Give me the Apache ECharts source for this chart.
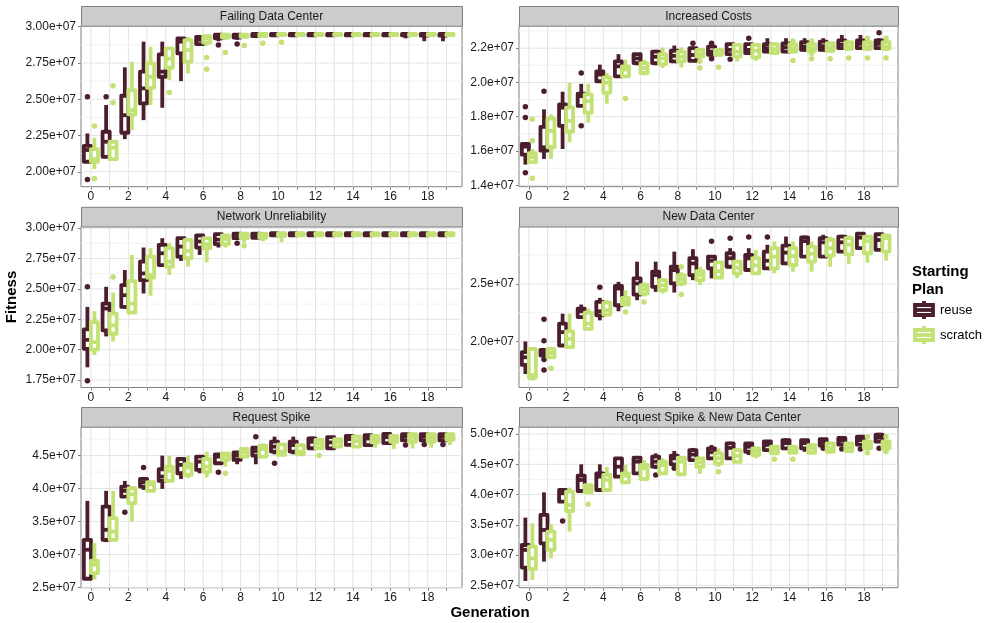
<!DOCTYPE html>
<html><head><meta charset="utf-8">
<script src="https://cdn.jsdelivr.net/npm/echarts@6/dist/echarts.min.js"></script>
<style>html,body{margin:0;padding:0;background:#fff}#c{width:988px;height:623px}</style>
</head><body><div id="c"></div>
<script>
// ---------- DATA (values in units of 1e7; each box = [lowerWhisker, Q1, median, Q3, upperWhisker]) ----------
const generations = [0,1,2,3,4,5,6,7,8,9,10,11,12,13,14,15,16,17,18,19];
const xTickLabels = [0,2,4,6,8,10,12,14,16,18];
const seriesNames = ['reuse','scratch'];
const panelTitles = ['Failing Data Center','Increased Costs','Network Unreliability','New Data Center','Request Spike','Request Spike & New Data Center'];

const failingReuse = [
 [2.065,2.069,2.15,2.179,2.264],[2.10,2.103,2.207,2.276,2.46],[2.225,2.269,2.39,2.524,2.72],[2.356,2.471,2.575,2.69,2.897],
 [2.441,2.655,2.69,2.809,2.897],[2.625,2.816,2.897,2.92,2.926],[2.875,2.88,2.91,2.93,2.935],[2.90,2.92,2.935,2.945,2.95],
 [2.91,2.925,2.94,2.945,2.95],[2.925,2.935,2.945,2.95,2.952],[2.935,2.94,2.946,2.95,2.953],[2.935,2.94,2.946,2.95,2.953],
 [2.935,2.94,2.946,2.95,2.953],[2.935,2.94,2.946,2.95,2.953],[2.935,2.94,2.946,2.95,2.953],[2.935,2.94,2.946,2.95,2.953],
 [2.935,2.94,2.946,2.95,2.953],[2.92,2.94,2.946,2.95,2.953],[2.90,2.938,2.946,2.95,2.953],[2.90,2.938,2.946,2.95,2.953]];
const failingScratch = [
 [2.018,2.069,2.087,2.156,2.234],[2.08,2.087,2.166,2.207,2.21],[2.287,2.395,2.425,2.563,2.759],[2.46,2.579,2.655,2.747,2.862],
 [2.632,2.717,2.78,2.85,2.857],[2.678,2.759,2.839,2.908,2.93],[2.87,2.89,2.92,2.935,2.94],[2.91,2.925,2.94,2.945,2.95],
 [2.92,2.93,2.94,2.945,2.95],[2.925,2.935,2.945,2.95,2.952],[2.935,2.942,2.947,2.95,2.953],[2.935,2.942,2.947,2.95,2.953],
 [2.935,2.942,2.947,2.95,2.953],[2.935,2.942,2.947,2.95,2.953],[2.935,2.942,2.947,2.95,2.953],[2.935,2.942,2.947,2.95,2.953],
 [2.935,2.942,2.947,2.95,2.953],[2.935,2.942,2.947,2.95,2.953],[2.935,2.942,2.947,2.95,2.953],[2.935,2.942,2.947,2.95,2.953]];
const failingReuseOut = [[0,2.517],[0,1.947],[1,2.517],[7,2.874],[8,2.88]];
const failingScratchOut = [[0,2.315],[0,1.954],[1,2.593],[1,2.476],[4,2.547],[6,2.788],[6,2.706],[7,2.823],[8,2.87],[9,2.886],[10,2.893]];

const costsReuse = [
 [1.521,1.579,1.626,1.641,1.645],[1.554,1.602,1.622,1.741,1.843],[1.612,1.747,1.853,1.872,1.946],[1.863,1.863,1.92,1.934,1.992],
 [1.998,2.007,2.046,2.065,2.104],[2.036,2.036,2.094,2.123,2.165],[2.10,2.113,2.14,2.165,2.17],[2.10,2.113,2.15,2.18,2.19],
 [2.113,2.123,2.155,2.185,2.215],[2.12,2.126,2.16,2.20,2.21],[2.15,2.161,2.18,2.209,2.215],[2.155,2.165,2.19,2.223,2.23],
 [2.165,2.171,2.19,2.223,2.23],[2.171,2.18,2.20,2.223,2.258],[2.171,2.18,2.205,2.228,2.258],[2.18,2.19,2.21,2.235,2.258],
 [2.18,2.19,2.212,2.238,2.258],[2.20,2.20,2.22,2.245,2.277],[2.20,2.20,2.225,2.245,2.277],[2.20,2.20,2.225,2.245,2.258]];
const costsScratch = [
 [1.535,1.535,1.564,1.587,1.612],[1.554,1.622,1.718,1.789,1.814],[1.651,1.714,1.776,1.853,1.998],[1.766,1.824,1.891,1.93,1.992],
 [1.876,1.94,1.998,2.03,2.055],[2.036,2.036,2.075,2.094,2.133],[2.042,2.055,2.084,2.113,2.133],[2.084,2.107,2.14,2.165,2.204],
 [2.088,2.123,2.15,2.18,2.204],[2.142,2.151,2.165,2.19,2.20],[2.151,2.161,2.175,2.19,2.20],[2.123,2.151,2.18,2.219,2.223],
 [2.126,2.146,2.185,2.219,2.223],[2.16,2.171,2.195,2.223,2.225],[2.17,2.18,2.20,2.223,2.23],[2.175,2.184,2.20,2.223,2.23],
 [2.175,2.184,2.205,2.229,2.235],[2.184,2.196,2.21,2.235,2.24],[2.184,2.196,2.21,2.235,2.24],[2.184,2.196,2.21,2.235,2.24]];
const costsReuseOut = [[0,1.859],[0,1.795],[0,1.473],[1,1.949],[3,2.055],[3,1.747],[9,2.229],[10,2.229],[10,2.138],[11,2.136],[12,2.258],[19,2.29]];
const costsScratchOut = [[0,1.786],[0,1.66],[0,1.442],[5,1.907],[9,2.123],[9,2.084],[10,2.088],[14,2.242],[14,2.128],[15,2.242],[15,2.171],[15,2.138],[16,2.138],[17,2.142],[18,2.258],[18,2.142],[19,2.258],[19,2.142]];

const networkReuse = [
 [1.855,2.007,2.081,2.167,2.352],[2.109,2.158,2.338,2.379,2.517],[2.338,2.352,2.448,2.531,2.655],[2.462,2.572,2.627,2.724,2.84],
 [2.696,2.696,2.793,2.862,2.917],[2.73,2.765,2.848,2.917,2.926],[2.779,2.84,2.89,2.939,2.95],[2.84,2.868,2.905,2.95,2.959],
 [2.905,2.917,2.945,2.955,2.96],[2.91,2.92,2.945,2.955,2.96],[2.935,2.94,2.952,2.958,2.962],[2.935,2.94,2.952,2.958,2.962],
 [2.935,2.94,2.952,2.958,2.962],[2.935,2.94,2.952,2.958,2.962],[2.935,2.94,2.952,2.958,2.962],[2.935,2.94,2.952,2.958,2.962],
 [2.935,2.94,2.952,2.958,2.962],[2.935,2.94,2.952,2.958,2.962],[2.935,2.94,2.952,2.958,2.962],[2.935,2.94,2.952,2.958,2.962]];
const networkScratch = [
 [1.957,2.001,2.062,2.227,2.316],[2.067,2.131,2.20,2.296,2.47],[2.305,2.305,2.379,2.564,2.779],[2.443,2.592,2.614,2.765,2.834],
 [2.614,2.683,2.724,2.834,2.876],[2.683,2.752,2.812,2.903,2.917],[2.719,2.834,2.868,2.917,2.926],[2.84,2.868,2.91,2.939,2.95],
 [2.88,2.917,2.94,2.955,2.96],[2.89,2.92,2.945,2.955,2.96],[2.884,2.935,2.95,2.958,2.962],[2.935,2.94,2.952,2.958,2.962],
 [2.935,2.94,2.952,2.958,2.962],[2.935,2.94,2.952,2.958,2.962],[2.935,2.94,2.952,2.958,2.962],[2.935,2.94,2.952,2.958,2.962],
 [2.935,2.94,2.952,2.958,2.962],[2.935,2.94,2.952,2.958,2.962],[2.935,2.94,2.952,2.958,2.962],[2.935,2.94,2.952,2.958,2.962]];
const networkReuseOut = [[0,2.517],[0,1.744],[8,2.876]];
const networkScratchOut = [[1,2.597],[8,2.854]];

const newDcReuse = [
 [1.718,1.797,1.863,1.907,2.0],[1.87,1.878,1.90,1.927,1.93],[1.965,1.965,2.081,2.154,2.241],[2.212,2.212,2.262,2.285,2.32],
 [2.183,2.227,2.262,2.343,2.378],[2.262,2.314,2.459,2.483,2.517],[2.358,2.407,2.503,2.547,2.692],[2.43,2.474,2.576,2.605,2.692],
 [2.424,2.503,2.619,2.648,2.779],[2.532,2.576,2.677,2.722,2.80],[2.547,2.634,2.70,2.736,2.74],[2.634,2.648,2.722,2.765,2.809],
 [2.605,2.62,2.72,2.75,2.809],[2.634,2.634,2.70,2.779,2.838],[2.663,2.677,2.77,2.832,2.91],[2.736,2.736,2.87,2.902,2.919],
 [2.736,2.736,2.86,2.896,2.925],[2.779,2.779,2.86,2.91,2.925],[2.80,2.809,2.90,2.935,2.94],[2.795,2.795,2.88,2.93,2.94]];
const newDcScratch = [
 [1.66,1.685,1.71,1.935,1.951],[1.85,1.863,1.90,1.936,1.95],[1.936,1.951,2.023,2.087,2.241],[2.096,2.11,2.154,2.25,2.285],
 [2.227,2.233,2.27,2.337,2.358],[2.31,2.32,2.343,2.378,2.445],[2.39,2.416,2.453,2.488,2.512],[2.416,2.445,2.488,2.532,2.547],
 [2.48,2.503,2.54,2.576,2.60],[2.489,2.532,2.576,2.61,2.648],[2.553,2.553,2.61,2.686,2.69],[2.55,2.59,2.64,2.692,2.70],
 [2.576,2.59,2.66,2.722,2.794],[2.59,2.634,2.735,2.809,2.867],[2.605,2.663,2.74,2.809,2.867],[2.605,2.692,2.76,2.823,2.867],
 [2.648,2.744,2.81,2.882,2.91],[2.672,2.756,2.84,2.896,2.919],[2.683,2.765,2.87,2.91,2.919],[2.70,2.78,2.895,2.92,2.925]];
const newDcReuseOut = [[1,2.192],[1,2.006],[1,1.843],[1,1.753],[4,2.471],[10,2.87],[11,2.896],[12,2.905],[13,2.905]];
const newDcScratchOut = [[1,1.767],[5,2.256],[6,2.343],[8,2.648],[8,2.407]];

const spikeReuse = [
 [2.616,2.631,3.071,3.222,3.813],[3.187,3.222,3.374,3.727,3.965],[3.864,3.879,3.965,4.03,4.116],[3.98,4.03,4.096,4.146,4.167],
 [3.995,4.116,4.182,4.293,4.5],[4.146,4.232,4.359,4.449,4.47],[4.232,4.283,4.409,4.485,4.5],[4.359,4.384,4.485,4.52,4.535],
 [4.369,4.434,4.5,4.55,4.571],[4.369,4.5,4.57,4.621,4.621],[4.52,4.561,4.636,4.712,4.788],[4.52,4.561,4.66,4.712,4.788],
 [4.612,4.612,4.71,4.763,4.788],[4.61,4.61,4.70,4.78,4.788],[4.662,4.662,4.75,4.80,4.81],[4.66,4.66,4.76,4.81,4.815],
 [4.68,4.69,4.78,4.83,4.835],[4.73,4.73,4.79,4.825,4.835],[4.73,4.73,4.79,4.825,4.835],[4.73,4.73,4.79,4.825,4.835]];
const spikeScratch = [
 [2.616,2.717,2.843,2.904,3.172],[3.222,3.222,3.348,3.551,3.965],[3.5,3.778,3.914,4.005,4.03],[3.965,3.965,4.066,4.096,4.10],
 [4.116,4.116,4.268,4.333,4.5],[4.157,4.207,4.318,4.369,4.5],[4.167,4.258,4.333,4.449,4.56],[4.333,4.434,4.5,4.535,4.55],
 [4.46,4.485,4.55,4.601,4.62],[4.485,4.485,4.6,4.652,4.687],[4.50,4.51,4.56,4.67,4.67],[4.50,4.52,4.56,4.66,4.688],
 [4.612,4.612,4.68,4.738,4.74],[4.636,4.636,4.70,4.75,4.76],[4.636,4.636,4.72,4.79,4.80],[4.62,4.70,4.75,4.80,4.81],
 [4.60,4.71,4.76,4.80,4.815],[4.61,4.71,4.77,4.825,4.83],[4.62,4.71,4.77,4.825,4.83],[4.66,4.74,4.79,4.825,4.83]];
const spikeReuseOut = [[2,3.641],[3,4.318],[7,4.247],[9,4.788],[10,4.385],[17,4.662],[18,4.67],[19,4.67]];
const spikeScratchOut = [[7,4.232],[12,4.5]];

const spikeDcReuse = [
 [2.572,2.792,3.084,3.166,3.618],[2.891,3.194,3.414,3.662,4.036],[3.882,3.882,4.02,4.075,4.102],[4.036,4.058,4.24,4.312,4.499],
 [4.075,4.075,4.295,4.35,4.499],[4.295,4.295,4.46,4.598,4.609],[4.323,4.35,4.543,4.609,4.626],[4.422,4.46,4.543,4.626,4.68],
 [4.499,4.499,4.598,4.642,4.719],[4.57,4.57,4.66,4.735,4.77],[4.57,4.597,4.70,4.763,4.818],[4.58,4.597,4.77,4.846,4.873],
 [4.652,4.707,4.79,4.846,4.86],[4.707,4.735,4.82,4.88,4.90],[4.735,4.763,4.85,4.90,4.928],[4.707,4.763,4.85,4.90,4.915],
 [4.763,4.81,4.87,4.915,4.928],[4.824,4.824,4.89,4.935,4.94],[4.824,4.824,4.90,4.955,4.96],[4.873,4.873,4.94,4.99,5.02]];
const spikeDcScratch = [
 [2.588,2.77,2.946,3.139,3.524],[2.946,3.084,3.249,3.387,3.508],[3.387,3.728,3.827,4.047,4.113],[4.036,4.036,4.091,4.157,4.157],
 [4.075,4.075,4.24,4.323,4.46],[4.202,4.202,4.312,4.35,4.488],[4.224,4.257,4.433,4.488,4.57],[4.323,4.35,4.488,4.543,4.598],
 [4.334,4.334,4.543,4.609,4.609],[4.34,4.459,4.53,4.597,4.624],[4.459,4.514,4.60,4.68,4.763],[4.541,4.541,4.64,4.735,4.763],
 [4.597,4.652,4.72,4.763,4.79],[4.68,4.68,4.74,4.79,4.79],[4.69,4.69,4.74,4.79,4.80],[4.69,4.69,4.76,4.818,4.82],
 [4.707,4.707,4.77,4.846,4.85],[4.718,4.718,4.78,4.846,4.85],[4.763,4.763,4.82,4.88,4.88],[4.763,4.763,4.82,4.88,4.88]];
const spikeDcReuseOut = [[2,3.563],[7,4.323],[8,4.433],[16,4.763],[17,4.752],[18,4.752],[19,4.763]];
const spikeDcScratchOut = [[3,3.838],[10,4.377],[13,4.585],[14,4.585],[18,4.955],[18,4.69],[19,4.955],[19,4.713]];

// y-axis ranges and label steps (units 1e7)
const yRanges = [[1.897,3.007],[1.392,2.331],[1.689,3.013],[1.601,2.997],[2.495,4.939],[2.46,5.121]];
const yLabelSteps = [0.25,0.2,0.25,0.5,0.5,0.5];
const yLabelDecimals = [2,1,2,1,1,1];

// ---------- STYLE / LAYOUT ----------
const SCALE = 1e7;
const COLORS = ['#4b1e2d', '#c4e176'];
const DODGE = 0.1875, BOX_W = 0.38, LW = 3.8;
const XMIN = -0.53, XMAX = 19.83;
const colLeft = [81, 519], colWidth = [381, 379];
const rowTop = [25.7, 226.5, 426.7], rowHeight = 161, STRIP_H = 19.7;
const FONT = 'Liberation Sans, Arial, Helvetica, sans-serif';
const TICK_FS = 12;

const panels = [
  {reuse: failingReuse, scratch: failingScratch, rOut: failingReuseOut, sOut: failingScratchOut},
  {reuse: costsReuse, scratch: costsScratch, rOut: costsReuseOut, sOut: costsScratchOut},
  {reuse: networkReuse, scratch: networkScratch, rOut: networkReuseOut, sOut: networkScratchOut},
  {reuse: newDcReuse, scratch: newDcScratch, rOut: newDcReuseOut, sOut: newDcScratchOut},
  {reuse: spikeReuse, scratch: spikeScratch, rOut: spikeReuseOut, sOut: spikeScratchOut},
  {reuse: spikeDcReuse, scratch: spikeDcScratch, rOut: spikeDcReuseOut, sOut: spikeDcScratchOut}
];

const grids = [], xAxes = [], yAxes = [], series = [], graphics = [];

function makeBoxRenderer(color) {
  return function (params, api) {
    const x = api.value(0);
    const pLo = api.coord([x, api.value(1)]);
    const pQ1 = api.coord([x, api.value(2)]);
    const pMed = api.coord([x, api.value(3)]);
    const pQ3 = api.coord([x, api.value(4)]);
    const pHi = api.coord([x, api.value(5)]);
    const hw = api.size([BOX_W, 0])[0] / 2;
    const st = {stroke: color, lineWidth: LW, fill: null, lineCap: 'butt'};
    return {type: 'group', children: [
      {type: 'line', shape: {x1: pLo[0], y1: pLo[1], x2: pQ1[0], y2: pQ1[1]}, style: st},
      {type: 'line', shape: {x1: pQ3[0], y1: pQ3[1], x2: pHi[0], y2: pHi[1]}, style: st},
      {type: 'rect', shape: {x: pQ3[0] - hw, y: pQ3[1], width: 2 * hw, height: pQ1[1] - pQ3[1]},
        style: {fill: '#ffffff', stroke: color, lineWidth: LW, lineJoin: 'round'}},
      {type: 'line', shape: {x1: pMed[0] - hw, y1: pMed[1], x2: pMed[0] + hw, y2: pMed[1]}, style: st}
    ]};
  };
}

panels.forEach((p, i) => {
  const col = i % 2, row = Math.floor(i / 2);
  const left = colLeft[col], width = colWidth[col], top = rowTop[row];
  const [yLo, yHi] = yRanges[i];
  const step = yLabelSteps[i], dec = yLabelDecimals[i];
  const majors = [];
  for (let k = Math.ceil(yLo / step - 1e-9); k * step <= yHi + 1e-9; k++) majors.push(+(k * step).toFixed(6));
  const minors = [];
  for (let k = Math.floor(yLo / step); k * step <= yHi; k++) {
    const m = (k + 0.5) * step;
    if (m > yLo && m < yHi) minors.push(m);
  }
  grids.push({left: left, top: top, width: width, height: rowHeight, show: true,
    backgroundColor: '#ffffff', borderColor: '#808080', borderWidth: 1, containLabel: false});
  xAxes.push({type: 'value', gridIndex: i, min: XMIN, max: XMAX,
    axisLine: {show: false, onZero: false},
    axisTick: {show: true, length: 3, customValues: generations, lineStyle: {color: '#808080'}},
    axisLabel: {customValues: xTickLabels, fontSize: TICK_FS, color: '#1a1a1a', margin: 4, fontFamily: FONT},
    splitLine: {show: false}});
  yAxes.push({type: 'value', gridIndex: i, min: yLo * SCALE, max: yHi * SCALE,
    axisLine: {show: false, onZero: false},
    axisTick: {show: true, length: 3, customValues: majors.map(v => v * SCALE), lineStyle: {color: '#808080'}},
    axisLabel: {customValues: majors.map(v => v * SCALE), fontSize: TICK_FS, color: '#1a1a1a', margin: 5, fontFamily: FONT,
      formatter: v => (v / SCALE).toFixed(dec) + 'e+07'},
    splitLine: {show: false}});

  // grid lines (drawn through the axes' scales)
  const lineData = [];
  generations.forEach(g => lineData.push([g, yLo * SCALE, 0]));
  majors.forEach(v => lineData.push([XMIN, v * SCALE, 2]));
  minors.forEach(v => lineData.push([XMIN, v * SCALE, 3]));
  series.push({type: 'custom', xAxisIndex: i, yAxisIndex: i, silent: true, z: 1, data: lineData,
    renderItem: function (params, api) {
      const cs = params.coordSys;
      const kind = api.value(2);
      const pt = api.coord([api.value(0), api.value(1)]);
      const color = (kind === 0 || kind === 2) ? '#e3e3e3' : '#f1f1f1';
      if (kind < 2) return {type: 'line', shape: {x1: pt[0], y1: cs.y, x2: pt[0], y2: cs.y + cs.height}, style: {stroke: color, lineWidth: 1}};
      return {type: 'line', shape: {x1: cs.x, y1: pt[1], x2: cs.x + cs.width, y2: pt[1]}, style: {stroke: color, lineWidth: 1}};
    }});

  [[p.reuse, p.rOut, -DODGE], [p.scratch, p.sOut, DODGE]].forEach(([boxes, outs, off], s) => {
    series.push({type: 'custom', name: seriesNames[s], xAxisIndex: i, yAxisIndex: i, z: 2 + s,
      encode: {x: 0, y: [1, 2, 3, 4, 5]},
      data: boxes.map((b, g) => [generations[g] + off].concat(b.map(v => v * SCALE))),
      renderItem: makeBoxRenderer(COLORS[s])});
    series.push({type: 'scatter', name: seriesNames[s], xAxisIndex: i, yAxisIndex: i, z: 2 + s,
      symbolSize: 5.5, itemStyle: {color: COLORS[s], opacity: 1},
      data: outs.map(o => [o[0] + off, o[1] * SCALE])});
  });

  // facet strip
  graphics.push({type: 'rect', left: left, top: top - STRIP_H, shape: {width: width, height: STRIP_H},
    style: {fill: '#cccccc', stroke: '#808080', lineWidth: 1}, z: 10});
  graphics.push({type: 'text', x: left + width / 2, y: top - STRIP_H / 2 + 0.5,
    style: {text: panelTitles[i], font: '12px ' + FONT, fill: '#1a1a1a', align: 'center', verticalAlign: 'middle'}, z: 11});
});

// axis titles
graphics.push({type: 'text', x: 490, y: 613, style: {text: 'Generation', font: 'bold 15px ' + FONT, fill: '#000', align: 'center', verticalAlign: 'middle'}});
graphics.push({type: 'text', x: 12, y: 297, rotation: Math.PI / 2, style: {text: 'Fitness', font: 'bold 15px ' + FONT, fill: '#000', align: 'center', verticalAlign: 'middle'}});

// legend
graphics.push({type: 'text', x: 912, y: 272, style: {text: 'Starting', font: 'bold 15px ' + FONT, fill: '#000', align: 'left', verticalAlign: 'middle'}});
graphics.push({type: 'text', x: 912, y: 290, style: {text: 'Plan', font: 'bold 15px ' + FONT, fill: '#000', align: 'left', verticalAlign: 'middle'}});
seriesNames.forEach((nm, s) => {
  const cy = 310 + s * 25, cx = 924;
  graphics.push({type: 'line', shape: {x1: cx, y1: cy - 9, x2: cx, y2: cy + 9}, style: {stroke: COLORS[s], lineWidth: LW}});
  graphics.push({type: 'rect', shape: {x: cx - 9, y: cy - 5, width: 18, height: 10}, style: {fill: '#fff', stroke: COLORS[s], lineWidth: LW}});
  graphics.push({type: 'line', shape: {x1: cx - 9, y1: cy, x2: cx + 9, y2: cy}, style: {stroke: COLORS[s], lineWidth: LW}});
  graphics.push({type: 'text', x: 940, y: cy, style: {text: nm, font: '13px ' + FONT, fill: '#000', align: 'left', verticalAlign: 'middle'}});
});

const chart = echarts.init(document.getElementById('c'), null, {renderer: 'canvas'});
chart.setOption({
  animation: false,
  backgroundColor: '#ffffff',
  grid: grids, xAxis: xAxes, yAxis: yAxes, series: series, graphic: graphics
});
</script></body></html>
